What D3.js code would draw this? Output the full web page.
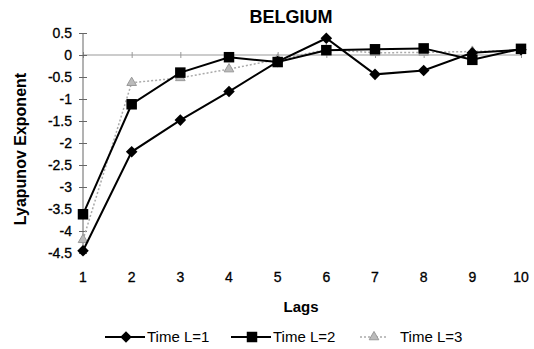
<!DOCTYPE html>
<html>
<head>
<meta charset="utf-8">
<script src="https://cdn.jsdelivr.net/npm/d3@7"></script>
<style>
	body{ margin:0; background:#fff; }
	svg{ display:block; font-family:"Liberation Sans", Arial, sans-serif; }
</style>
</head>
<body>
<div id="chart"></div>
<script>
var lags = [1, 2, 3, 4, 5, 6, 7, 8, 9, 10];
var timeL1 = [-4.45, -2.2, -1.48, -0.83, -0.15, 0.38, -0.44, -0.35, 0.05, 0.12];
var timeL2 = [-3.62, -1.12, -0.4, -0.05, -0.16, 0.11, 0.13, 0.15, -0.11, 0.14];
var timeL3 = [-4.2, -0.63, -0.52, -0.32, -0.1, 0.12, 0.05, 0.06, 0.08, 0.1];
var yTicks = [0.5, 0, -0.5, -1, -1.5, -2, -2.5, -3, -3.5, -4, -4.5];
var seriesNames = ["Time L=1", "Time L=2", "Time L=3"];

var width = 534, height = 349;

var svg = d3.select("#chart").append("svg")
	.attr("width", width)
	.attr("height", height);

var x = d3.scalePoint()
	.domain(lags)
	.range([83, 521]);

var y = d3.scaleLinear()
	.domain([-4.5, 0.5])
	.range([253, 33]);

// title
svg.append("text")
	.attr("x", 291)
	.attr("y", 23)
	.attr("text-anchor", "middle")
	.style("font-size", "18px")
	.style("font-weight", "bold")
	.text("BELGIUM");

// x axis along zero
var xAxis = svg.append("g")
	.attr("transform", "translate(0," + y(0) + ")")
	.call(d3.axisBottom(x).tickSize(3).tickFormat(""));
xAxis.select(".domain").attr("stroke", "#999").attr("d", "M" + x(1) + ",0H" + x(10));
xAxis.selectAll(".tick line").attr("stroke", "#999").attr("y1", -3);

// x tick labels below the plot
svg.append("g")
		.selectAll("text")
		.data(lags)
	.enter().append("text")
		.attr("x", function(d){ return x(d); })
		.attr("y", 282)
		.attr("text-anchor", "middle")
		.attr("stroke", "#000")
		.attr("stroke-width", 0.3)
		.style("font-size", "14px")
		.text(function(d){ return d; });

// y axis
var yAxis = svg.append("g")
	.attr("transform", "translate(" + x(1) + ",0)")
	.call(d3.axisLeft(y).tickValues(yTicks).tickSize(4).tickPadding(7).tickFormat(d3.format("")));
yAxis.select(".domain").attr("stroke", "#666").attr("d", "M0," + y(0.5) + "V" + y(-4.5));
yAxis.selectAll(".tick line").attr("stroke", "#666").attr("x2", 4).attr("x1", -4);
yAxis.selectAll(".tick text")
	.attr("fill", "#000")
	.attr("stroke", "#000")
	.attr("stroke-width", 0.3)
	.style("font-size", "14px")
	.style("font-family", "Liberation Sans, Arial, sans-serif")
	.text(function(d){ return d3.format("")(d).replace("\u2212", "-"); });

// axis titles
svg.append("text")
	.attr("x", 301)
	.attr("y", 312)
	.attr("text-anchor", "middle")
	.style("font-size", "15px")
	.style("font-weight", "bold")
	.text("Lags");

svg.append("text")
	.attr("transform", "translate(26,149) rotate(-90)")
	.attr("text-anchor", "middle")
	.style("font-size", "16px")
	.style("font-weight", "bold")
	.text("Lyapunov Exponent");

var line = d3.line()
	.x(function(d){ return x(d.lag); })
	.y(function(d){ return y(d.value); });

function pairs(values){
	return lags.map(function(lag, i){ return {lag: lag, value: values[i]}; });
}

var diamond = d3.symbol().type(d3.symbolDiamond2).size(85);
var square = d3.symbol().type(d3.symbolSquare).size(110);
var triangle = d3.symbol().type(d3.symbolTriangle).size(40);

var series = [
	{name: seriesNames[0], values: pairs(timeL1), color: "#000", width: 2, dash: null, marker: diamond, fill: "#000"},
	{name: seriesNames[1], values: pairs(timeL2), color: "#000", width: 2, dash: null, marker: square, fill: "#000"},
	{name: seriesNames[2], values: pairs(timeL3), color: "#aaa", width: 1.5, dash: "2,2", marker: triangle, fill: "#bbb"}
];

// draw the light series first so the dark ones sit on top
var order = [series[2], series[0], series[1]];

order.forEach(function(s){
	svg.append("path")
		.datum(s.values)
		.attr("fill", "none")
		.attr("stroke", s.color)
		.attr("stroke-width", s.width)
		.attr("stroke-dasharray", s.dash)
		.attr("d", line);

	svg.append("g")
			.selectAll("path")
			.data(s.values)
		.enter().append("path")
			.attr("transform", function(d){ return "translate(" + x(d.lag) + "," + y(d.value) + ")"; })
			.attr("d", s.marker)
			.attr("fill", s.fill)
			.attr("stroke", s.color === "#aaa" ? "#999" : "none");
});

// legend
var legendX = [105, 231, 360];
var legend = svg.append("g")
		.selectAll("g")
		.data(series)
	.enter().append("g")
		.attr("transform", function(d, i){ return "translate(" + legendX[i] + ",337)"; });

legend.append("line")
	.attr("x1", 0)
	.attr("x2", function(d, i){ return i === 2 ? 28 : 40; })
	.attr("stroke", function(d){ return d.color; })
	.attr("stroke-width", function(d){ return d.width; })
	.attr("stroke-dasharray", function(d){ return d.dash; });

legend.append("path")
	.attr("transform", function(d, i){ return "translate(" + (i === 2 ? 14 : 21) + ",0)"; })
	.attr("d", function(d){ return d.marker(); })
	.attr("fill", function(d){ return d.fill; })
	.attr("stroke", function(d){ return d.color === "#aaa" ? "#999" : "none"; });

legend.append("text")
	.attr("x", function(d, i){ return i === 2 ? 40 : 42; })
	.attr("y", 5)
	.style("font-size", "15px")
	.text(function(d){ return d.name; });
</script>
</body>
</html>
